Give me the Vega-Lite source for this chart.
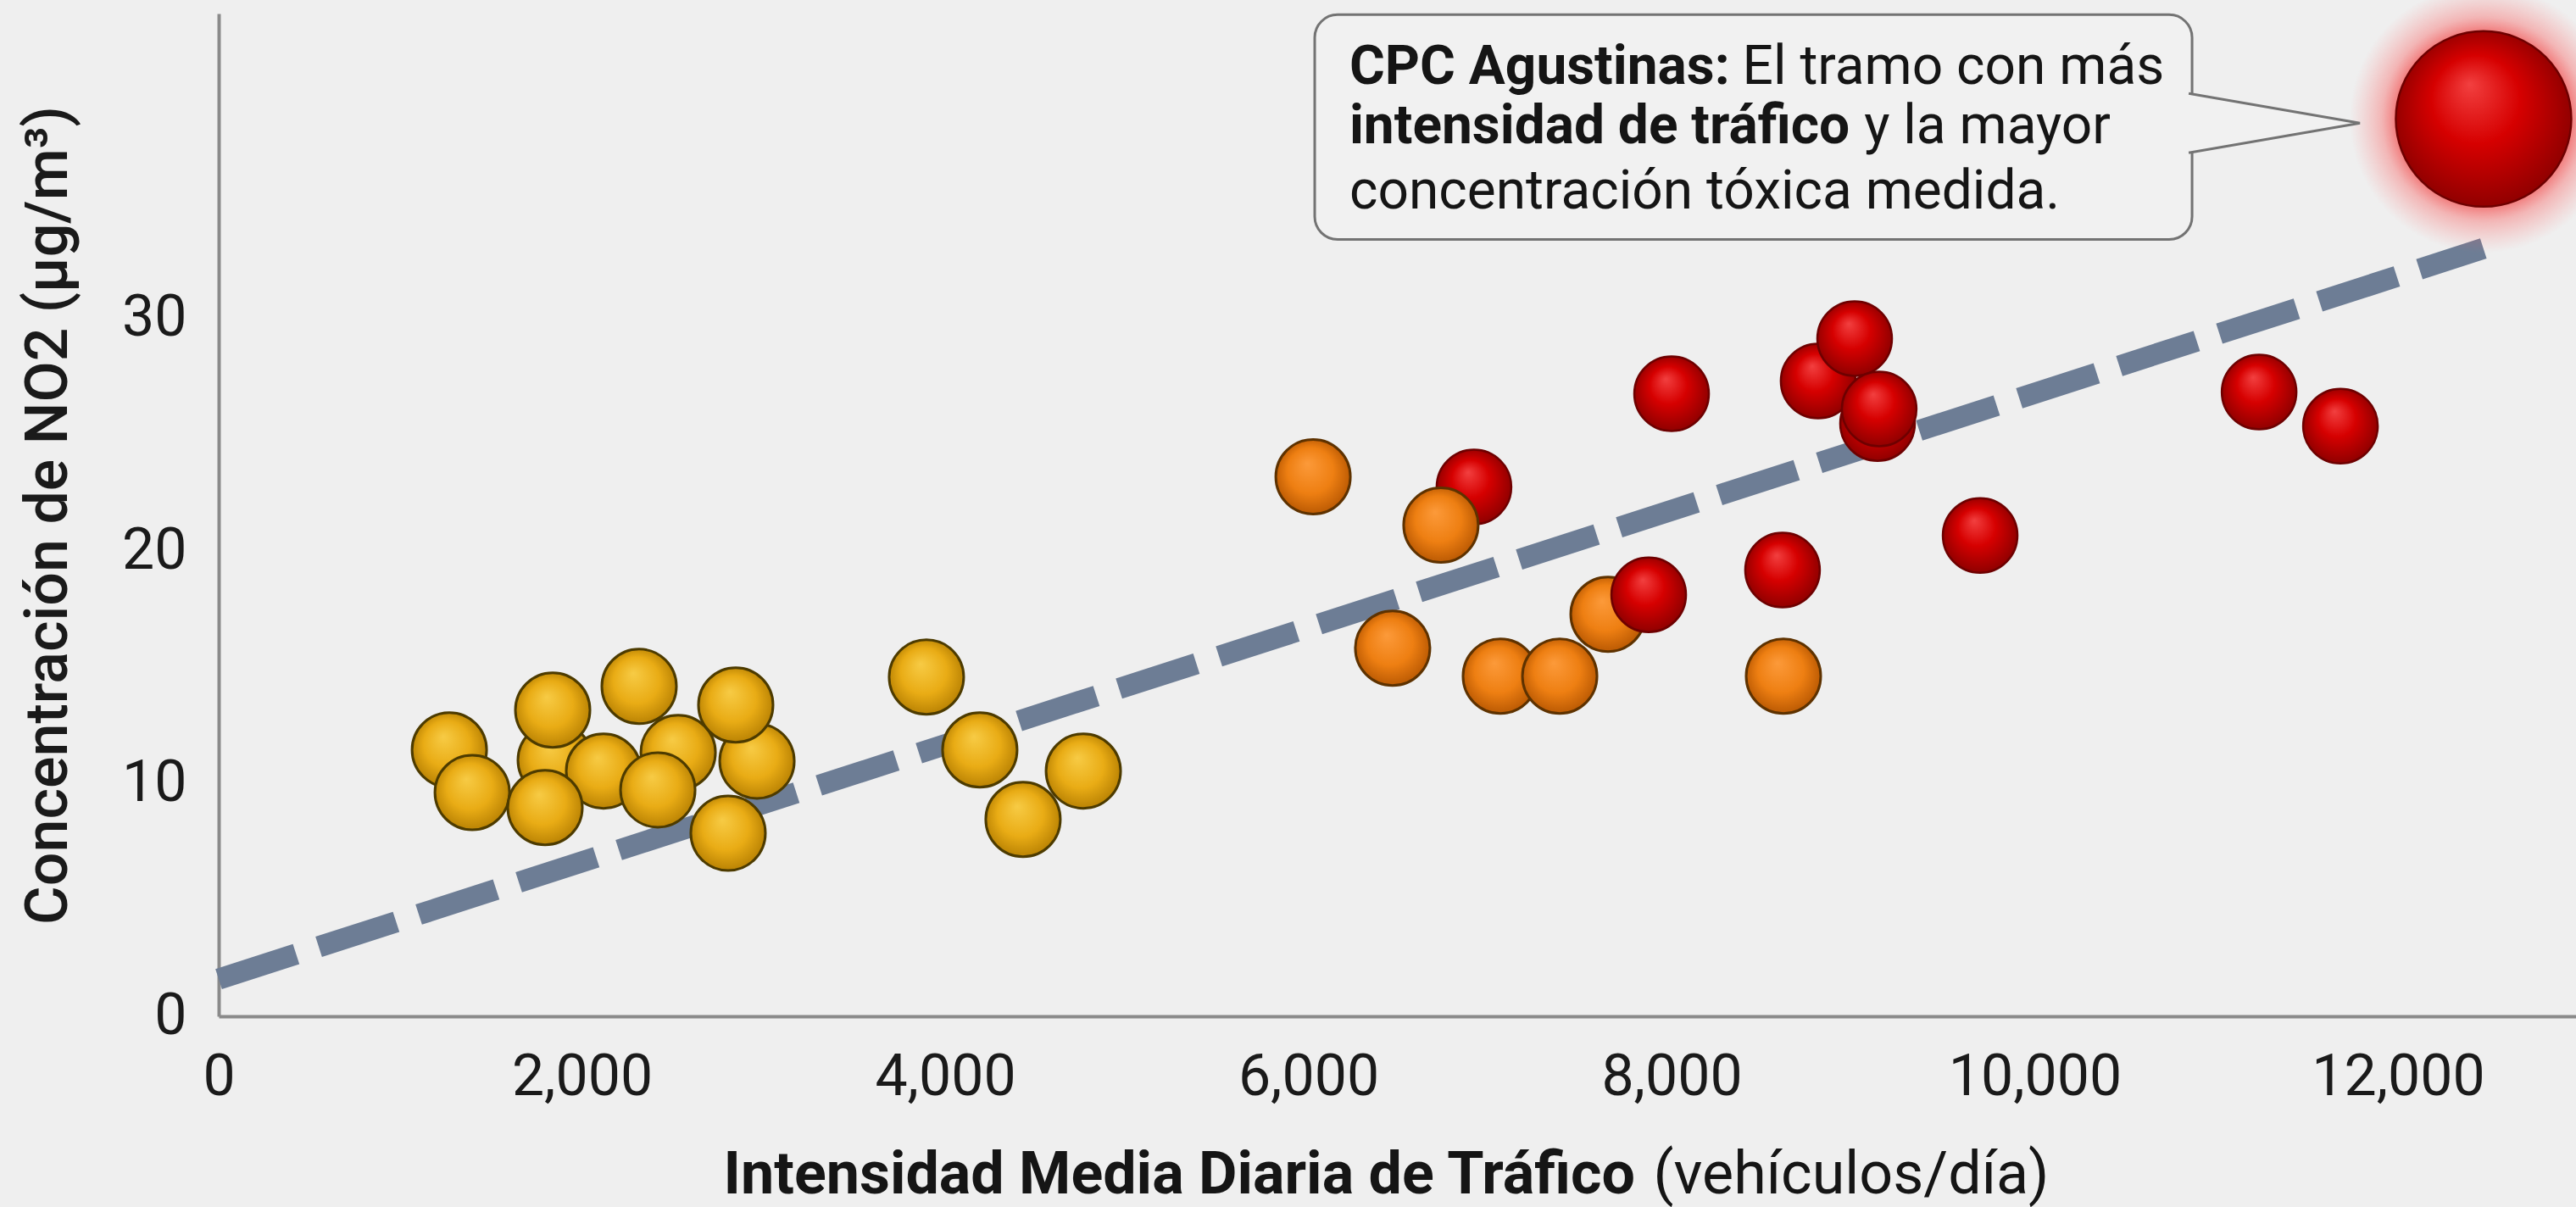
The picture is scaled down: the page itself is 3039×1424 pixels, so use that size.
{
  "$schema": "https://vega.github.io/schema/vega-lite/v6.json",
  "autosize": {"type": "none"},
  "width": 2781,
  "height": 1183,
  "padding": {"left": 258, "top": 16, "right": 0, "bottom": 225},
  "background": "#efefef",
  "view": {"stroke": null},
  "config": {
    "font": "Roboto",
    "axis": {
      "labelFontSize": 68, "labelFont": "Roboto", "labelColor": "#1a1a1a", "labelPadding": 38,
      "labelLimit": 500,
      "ticks": false, "grid": false, "domainColor": "#8a8a8a", "domainWidth": 4,
      "labelFlush": false, "labelOverlap": false,
      "titleFont": "Roboto", "titleFontSize": 70, "titleFontWeight": 500, "titleColor": "#1a1a1a"
    },
    "axisY": {"titlePadding": 50}
  },
  "datasets": {
    "puntos": [
      {"imd": 1270, "no2": 11.45, "nivel": "bajo"},
      {"imd": 1853, "no2": 11.01, "nivel": "bajo"},
      {"imd": 2530, "no2": 11.34, "nivel": "bajo"},
      {"imd": 2964, "no2": 10.97, "nivel": "bajo"},
      {"imd": 2119, "no2": 10.54, "nivel": "bajo"},
      {"imd": 1839, "no2": 13.16, "nivel": "bajo"},
      {"imd": 2847, "no2": 13.38, "nivel": "bajo"},
      {"imd": 2315, "no2": 14.18, "nivel": "bajo"},
      {"imd": 1396, "no2": 9.62, "nivel": "bajo"},
      {"imd": 1797, "no2": 8.97, "nivel": "bajo"},
      {"imd": 2418, "no2": 9.73, "nivel": "bajo"},
      {"imd": 2805, "no2": 7.87, "nivel": "bajo"},
      {"imd": 3897, "no2": 14.58, "nivel": "bajo"},
      {"imd": 4191, "no2": 11.45, "nivel": "bajo"},
      {"imd": 4761, "no2": 10.54, "nivel": "bajo"},
      {"imd": 4429, "no2": 8.46, "nivel": "bajo"},
      {"imd": 6912, "no2": 22.75, "nivel": "alto"},
      {"imd": 6026, "no2": 23.19, "nivel": "medio"},
      {"imd": 6730, "no2": 21.11, "nivel": "medio"},
      {"imd": 6464, "no2": 15.82, "nivel": "medio"},
      {"imd": 7057, "no2": 14.62, "nivel": "medio"},
      {"imd": 7384, "no2": 14.62, "nivel": "medio"},
      {"imd": 7650, "no2": 17.28, "nivel": "medio"},
      {"imd": 8616, "no2": 14.62, "nivel": "medio"},
      {"imd": 7874, "no2": 18.12, "nivel": "alto"},
      {"imd": 8000, "no2": 26.76, "nivel": "alto"},
      {"imd": 8807, "no2": 27.31, "nivel": "alto"},
      {"imd": 9008, "no2": 29.13, "nivel": "alto"},
      {"imd": 9134, "no2": 25.48, "nivel": "alto"},
      {"imd": 9143, "no2": 26.10, "nivel": "alto"},
      {"imd": 9699, "no2": 20.67, "nivel": "alto"},
      {"imd": 8611, "no2": 19.18, "nivel": "alto"},
      {"imd": 11235, "no2": 26.83, "nivel": "alto"},
      {"imd": 11683, "no2": 25.37, "nivel": "alto"},
      {"imd": 12471, "no2": 38.57, "nivel": "alto", "tramo": "CPC Agustinas"}
    ]
  },
  "layer": [
    {
      "data": {"values": [{"imd": 0, "no2": 1.6}, {"imd": 12470, "no2": 33.0}]},
      "mark": {"type": "line", "color": "#6d7d95", "strokeWidth": 25, "strokeDash": [96, 28], "strokeCap": "butt"},
      "encoding": {
        "x": {
          "field": "imd", "type": "quantitative",
          "scale": {"domain": [0, 12980], "nice": false, "zero": false},
          "axis": {"title": null, "values": [0, 2000, 4000, 6000, 8000, 10000, 12000], "format": ",.0f"}
        },
        "y": {
          "field": "no2", "type": "quantitative",
          "scale": {"domain": [0, 43.1], "nice": false, "zero": false},
          "axis": {"title": "Concentración de NO2 (µg/m³)", "values": [0, 10, 20, 30], "format": ".0f"}
        }
      }
    },
    {
      "data": {"name": "puntos"},
      "transform": [{"filter": "datum.tramo == 'CPC Agustinas'"}],
      "mark": {"type": "circle", "size": 100000, "opacity": 1,
        "fill": {"gradient": "radial", "x1": 0.5, "y1": 0.5, "r1": 0, "x2": 0.5, "y2": 0.5, "r2": 0.5,
          "stops": [{"offset": 0, "color": "rgba(235,20,20,0.85)"}, {"offset": 0.6, "color": "rgba(240,30,30,0.7)"}, {"offset": 0.76, "color": "rgba(250,60,60,0.32)"}, {"offset": 1, "color": "rgba(255,100,100,0)"}]}},
      "encoding": {
        "x": {"field": "imd", "type": "quantitative"},
        "y": {"field": "no2", "type": "quantitative"}
      }
    },
    {
      "data": {"name": "puntos"},
      "transform": [{"filter": "datum.nivel == 'bajo'"}],
      "mark": {"type": "circle", "size": 7744, "opacity": 1, "stroke": "#4d3b00", "strokeWidth": 3,
        "fill": {"gradient": "radial", "x1": 0.42, "y1": 0.32, "r1": 0, "x2": 0.5, "y2": 0.5, "r2": 0.56,
          "stops": [{"offset": 0, "color": "#f7cb45"}, {"offset": 0.55, "color": "#e9ac15"}, {"offset": 1, "color": "#b07a00"}]}},
      "encoding": {
        "x": {"field": "imd", "type": "quantitative"},
        "y": {"field": "no2", "type": "quantitative"}
      }
    },
    {
      "data": {"name": "puntos"},
      "transform": [{"filter": "datum.nivel == 'alto' && datum.imd == 6912"}],
      "mark": {"type": "circle", "size": 7744, "opacity": 1, "stroke": "#6e0000", "strokeWidth": 2.5,
        "fill": {"gradient": "radial", "x1": 0.42, "y1": 0.3, "r1": 0, "x2": 0.5, "y2": 0.5, "r2": 0.56,
          "stops": [{"offset": 0, "color": "#f24040"}, {"offset": 0.45, "color": "#d60000"}, {"offset": 1, "color": "#850000"}]}},
      "encoding": {
        "x": {"field": "imd", "type": "quantitative"},
        "y": {"field": "no2", "type": "quantitative"}
      }
    },
    {
      "data": {"name": "puntos"},
      "transform": [{"filter": "datum.nivel == 'medio'"}],
      "mark": {"type": "circle", "size": 7744, "opacity": 1, "stroke": "#5e3200", "strokeWidth": 3,
        "fill": {"gradient": "radial", "x1": 0.42, "y1": 0.32, "r1": 0, "x2": 0.5, "y2": 0.5, "r2": 0.56,
          "stops": [{"offset": 0, "color": "#fc9a3a"}, {"offset": 0.55, "color": "#ee7f12"}, {"offset": 1, "color": "#b05200"}]}},
      "encoding": {
        "x": {"field": "imd", "type": "quantitative"},
        "y": {"field": "no2", "type": "quantitative"}
      }
    },
    {
      "data": {"name": "puntos"},
      "transform": [{"filter": "datum.nivel == 'alto' && datum.imd != 6912"}],
      "mark": {"type": "circle", "opacity": 1, "stroke": "#6e0000", "strokeWidth": 2.5,
        "fill": {"gradient": "radial", "x1": 0.42, "y1": 0.3, "r1": 0, "x2": 0.5, "y2": 0.5, "r2": 0.56,
          "stops": [{"offset": 0, "color": "#f24040"}, {"offset": 0.45, "color": "#d60000"}, {"offset": 1, "color": "#850000"}]}},
      "encoding": {
        "x": {"field": "imd", "type": "quantitative"},
        "y": {"field": "no2", "type": "quantitative"},
        "size": {"condition": {"test": "datum.tramo == 'CPC Agustinas'", "value": 42850}, "value": 7744}
      }
    },
    {
      "data": {"values": [{}]},
      "mark": {"type": "rect", "fill": "#f1f1f1", "stroke": "#737373", "strokeWidth": 3, "cornerRadius": 27},
      "encoding": {
        "x": {"datum": 6035, "type": "quantitative"},
        "x2": {"datum": 10866},
        "y": {"datum": 43.05, "type": "quantitative"},
        "y2": {"datum": 33.39}
      }
    },
    {
      "data": {"values": [{}]},
      "mark": {"type": "point", "shape": "M -1.04 -0.354 L 1 0 L -1.04 0.354", "size": 39204, "filled": true,
        "fill": "#f1f1f1", "stroke": "#737373", "strokeWidth": 3, "opacity": 1},
      "encoding": {
        "x": {"datum": 11328, "type": "quantitative"},
        "y": {"datum": 38.39, "type": "quantitative"}
      }
    },
    {
      "data": {"values": [{}]},
      "mark": {"type": "text", "text": "CPC Agustinas:", "font": "Roboto", "fontWeight": "bold", "fontSize": 64, "align": "left", "baseline": "alphabetic", "color": "#151515"},
      "encoding": {"x": {"datum": 6226, "type": "quantitative"}, "y": {"datum": 40.07, "type": "quantitative"}}
    },
    {
      "data": {"values": [{}]},
      "mark": {"type": "text", "text": "El tramo con más", "font": "Roboto", "fontSize": 64, "align": "left", "baseline": "alphabetic", "color": "#151515"},
      "encoding": {"x": {"datum": 8390, "type": "quantitative"}, "y": {"datum": 40.07, "type": "quantitative"}}
    },
    {
      "data": {"values": [{}]},
      "mark": {"type": "text", "text": "intensidad de tráfico", "font": "Roboto", "fontWeight": "bold", "fontSize": 64, "align": "left", "baseline": "alphabetic", "color": "#151515"},
      "encoding": {"x": {"datum": 6226, "type": "quantitative"}, "y": {"datum": 37.51, "type": "quantitative"}}
    },
    {
      "data": {"values": [{}]},
      "mark": {"type": "text", "text": "y la mayor", "font": "Roboto", "fontSize": 64, "align": "left", "baseline": "alphabetic", "color": "#151515"},
      "encoding": {"x": {"datum": 9060, "type": "quantitative"}, "y": {"datum": 37.51, "type": "quantitative"}}
    },
    {
      "data": {"values": [{}]},
      "mark": {"type": "text", "text": "concentración tóxica medida.", "font": "Roboto", "fontSize": 64, "align": "left", "baseline": "alphabetic", "color": "#151515"},
      "encoding": {"x": {"datum": 6226, "type": "quantitative"}, "y": {"datum": 34.71, "type": "quantitative"}}
    },
    {
      "data": {"values": [{}]},
      "mark": {"type": "text", "text": "Intensidad Media Diaria de Tráfico", "font": "Roboto", "fontWeight": "bold", "fontSize": 70, "align": "right", "baseline": "alphabetic", "color": "#151515"},
      "encoding": {"x": {"datum": 7799, "type": "quantitative"}, "y": {"datum": -7.62, "type": "quantitative"}}
    },
    {
      "data": {"values": [{}]},
      "mark": {"type": "text", "text": "(vehículos/día)", "font": "Roboto", "fontSize": 70, "align": "left", "baseline": "alphabetic", "color": "#151515"},
      "encoding": {"x": {"datum": 7900, "type": "quantitative"}, "y": {"datum": -7.62, "type": "quantitative"}}
    }
  ]
}
